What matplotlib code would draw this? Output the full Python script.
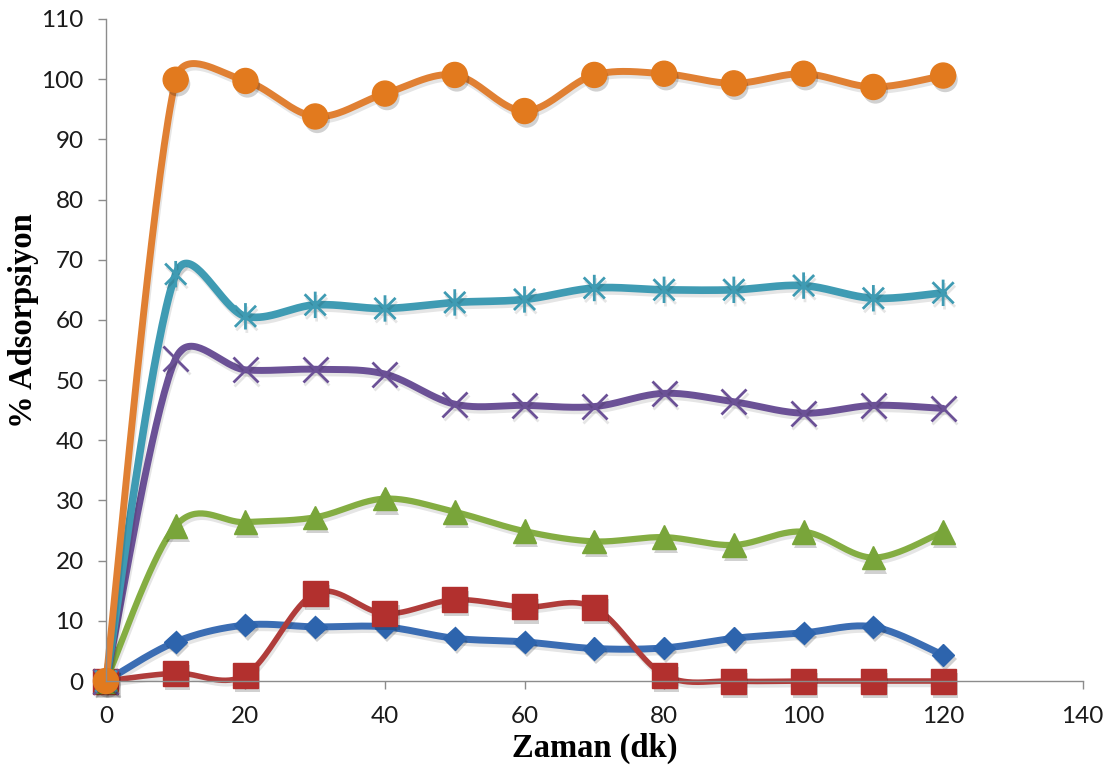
import numpy as np
import matplotlib
matplotlib.use("Agg")
import matplotlib.pyplot as plt
import matplotlib.patheffects as pe
from matplotlib.path import Path

# time (min)
zaman = [0, 10, 20, 30, 40, 50, 60, 70, 80, 90, 100, 110, 120]

# % adsorption per series
s_blue = [0, 6.5, 9.3, 9.0, 9.0, 7.1, 6.5, 5.4, 5.5, 7.1, 8.0, 9.0, 4.3]
s_red = [0, 1.3, 1.0, 14.6, 11.2, 13.5, 12.3, 12.2, 1.0, 0, 0, 0, 0]
s_green = [0, 25.8, 26.4, 27.2, 30.3, 28.1, 24.9, 23.2, 23.9, 22.6, 24.8, 20.5, 24.8]
s_purple = [0, 53.6, 51.7, 51.8, 51.0, 46.0, 45.8, 45.6, 47.8, 46.4, 44.5, 45.8, 45.3]
s_cyan = [0, 67.6, 60.6, 62.5, 61.9, 62.9, 63.4, 65.3, 65.0, 65.0, 65.7, 63.6, 64.5]
s_orange = [0, 99.9, 99.7, 93.8, 97.6, 100.7, 94.7, 100.7, 100.9, 99.3, 100.9, 98.7, 100.6]

xticks = [0, 20, 40, 60, 80, 100, 120, 140]
yticks = [0, 10, 20, 30, 40, 50, 60, 70, 80, 90, 100, 110]

# px per data unit, used so the smoothing works in screen space
SX, SY = 6.98, 6.02


def smooth(xs, ys, n=40):
    """Bezier smoothing with control arms limited to half a segment."""
    p = np.column_stack([np.asarray(xs, float) * SX, np.asarray(ys, float) * SY])
    out = [p[0]]
    m = len(p)
    for i in range(m - 1):
        p0 = p[max(i - 1, 0)]
        p1 = p[i]
        p2 = p[i + 1]
        p3 = p[min(i + 2, m - 1)]
        seg = np.linalg.norm(p2 - p1)
        t1 = p2 - p0
        t2 = p3 - p1
        f1 = 1 / 6
        f2 = 1 / 6
        if np.linalg.norm(t1) / 6 > seg / 2:
            f1 = seg / 2 / np.linalg.norm(t1)
        if np.linalg.norm(t2) / 6 > seg / 2:
            f2 = seg / 2 / np.linalg.norm(t2)
        c1 = p1 + t1 * f1
        c2 = p2 - t2 * f2
        t = np.linspace(0, 1, n)[1:, None]
        b = ((1 - t) ** 3) * p1 + 3 * ((1 - t) ** 2) * t * c1 \
            + 3 * (1 - t) * t ** 2 * c2 + t ** 3 * p2
        out.extend(b)
    out = np.array(out)
    return out[:, 0] / SX, out[:, 1] / SY


# asterisk marker: an x with a vertical bar through it
asterisk = Path(
    [(-1, -1), (1, 1), (-1, 1), (1, -1), (0, -1.25), (0, 1.25)],
    [Path.MOVETO, Path.LINETO, Path.MOVETO, Path.LINETO, Path.MOVETO, Path.LINETO],
)

series = [
    (s_blue, "#3b6db3", "#2d64ad", "D", 11.5, 5.0, True),
    (s_red, "#b03c3a", "#b2302e", "s", 18, 4.0, True),
    (s_green, "#84ad42", "#79a53a", "^", 17, 4.5, True),
    (s_purple, "#6b5196", "#6b5196", "x", 18, 5.0, False),
    (s_cyan, "#3f9bb3", "#3f9bb3", asterisk, 19, 5.5, False),
    (s_orange, "#e08033", "#e27a1e", "o", 18, 5.0, True),
]

fig = plt.figure(figsize=(11.15, 7.71), dpi=100)
ax = fig.add_axes([0.095, 0.1167, 0.876, 0.8587])

line_shadow = [pe.SimpleLineShadow(offset=(1, -2.5), shadow_color="k", alpha=0.1), pe.Normal()]
patch_shadow = [pe.SimplePatchShadow(offset=(1.5, -3), shadow_rgbFace="k", alpha=0.18), pe.Normal()]

for ys, lc, mc, mk, ms, lw, filled in series:
    sx, sy = smooth(zaman, ys)
    ax.plot(sx, sy, color=lc, lw=lw, solid_capstyle="round",
            path_effects=line_shadow, clip_on=False)
    if filled:
        ax.plot(zaman, ys, linestyle="none", marker=mk, markersize=ms,
                markerfacecolor=mc, markeredgecolor=mc, markeredgewidth=1,
                path_effects=patch_shadow, clip_on=False)
    else:
        ax.plot(zaman, ys, linestyle="none", marker=mk, markersize=ms,
                markeredgecolor=mc, markeredgewidth=2.0,
                path_effects=line_shadow, clip_on=False)

ax.set_xlim(0, 140)
ax.set_ylim(0, 110)
ax.set_xticks(xticks)
ax.set_yticks(yticks)

for side in ("top", "right"):
    ax.spines[side].set_visible(False)
for side in ("left", "bottom"):
    ax.spines[side].set_color("#8c8c8c")
    ax.spines[side].set_linewidth(1.0)

ax.tick_params(axis="both", direction="out", length=6, width=1, color="#8c8c8c",
               labelsize=17.5, labelcolor="#1a1a1a")
ax.tick_params(axis="x", pad=12)
ax.tick_params(axis="y", pad=10)
for lab in ax.get_xticklabels() + ax.get_yticklabels():
    lab.set_family("Lato")

ax.set_xlabel("Zaman (dk)", family="Liberation Serif", fontweight="bold", fontsize=23.5)
ax.set_ylabel("% Adsorpsiyon", family="Liberation Serif", fontweight="bold", fontsize=23.5)
ax.xaxis.set_label_coords(0.5, -0.078)
ax.yaxis.set_label_coords(-0.069, 0.544)

fig.savefig("out.png", dpi=100, facecolor="white")
